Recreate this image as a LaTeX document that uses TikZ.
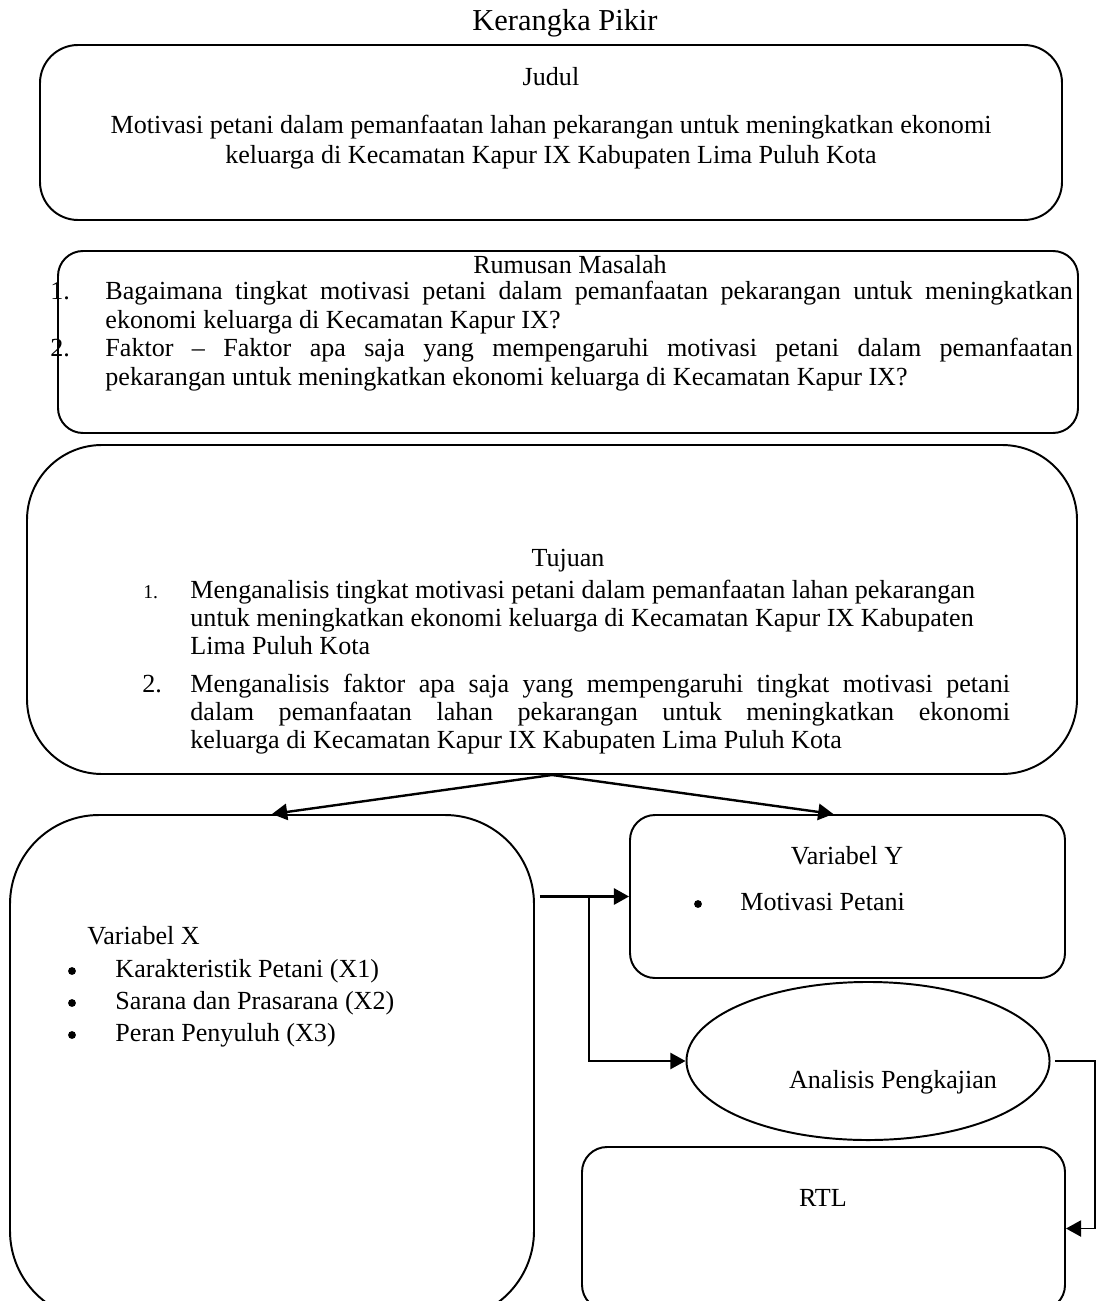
\documentclass[tikz,border=0pt]{standalone}
\usepackage{fontspec}
\setmainfont{Liberation Serif}
\usetikzlibrary{arrows.meta, fit, shapes.geometric, calc}

\begin{document}
\begin{tikzpicture}[x=0.46pt, y=-0.46pt,
    every node/.style={font=\fontsize{12pt}{13pt}\selectfont},
    box/.style={draw, line width=0.9pt, inner sep=0pt},
    txt/.style={anchor=base west, inner sep=0pt},
    dot/.style={circle, fill, inner sep=0pt, minimum size=3.6pt},
    arr/.style={-{Triangle[length=7pt,width=7.5pt]}, line width=1.1pt}]
    \useasboundingbox (0,0) rectangle (1096,1301);
    \clip (0,0) rectangle (1096,1301);

    \node[font=\fontsize{14pt}{16pt}\selectfont] (title) at (565,23) {Kerangka Pikir};

    % Judul
    \node[box, rounded corners=17.5pt, fit={(40,45) (1062,220)}] (judul) {};
    \node[anchor=base] (judulhead) at (551,86) {Judul};
    \node[anchor=base] (judul1) at (551,134) {Motivasi petani dalam pemanfaatan lahan pekarangan untuk meningkatkan ekonomi};
    \node[anchor=base] (judul2) at (551,164) {keluarga di Kecamatan Kapur IX Kabupaten Lima Puluh Kota};

    % Rumusan Masalah
    \node[box, rounded corners=11.5pt, fit={(58,251) (1078,433)}] (rumusan) {};
    \node[anchor=base] (rumusanhead) at (570,274) {Rumusan Masalah};
    \node[txt] (rm1no) at (50,300) {1.};
    \node[txt, text width=445pt, align=justify] (rm1) at (105,300) {Bagaimana tingkat motivasi petani dalam pemanfaatan pekarangan untuk meningkatkan\linebreak ekonomi keluarga di Kecamatan Kapur IX?};
    \node[txt] (rm2no) at (50,357) {2.};
    \node[txt, text width=445pt, align=justify] (rm2) at (105,357) {Faktor – Faktor apa saja yang mempengaruhi motivasi petani dalam pemanfaatan\linebreak pekarangan untuk meningkatkan ekonomi keluarga di Kecamatan Kapur IX?};

    % Tujuan
    \node[box, rounded corners=34.5pt, fit={(27,445) (1077,774)}] (tujuan) {};
    \node[anchor=base] (tujuanhead) at (568,566) {Tujuan};
    \node[txt, font=\fontsize{9pt}{10pt}\selectfont] (tj1no) at (143,598) {1.};
    \node[txt, text width=395pt, align=flush left] (tj1) at (190,598) {Menganalisis tingkat motivasi petani dalam pemanfaatan lahan pekarangan\\ untuk meningkatkan ekonomi keluarga di Kecamatan Kapur IX Kabupaten\\ Lima Puluh Kota};
    \node[txt] (tj2no) at (142,692) {2.};
    \node[txt, text width=377pt, align=justify] (tj2) at (190,692) {Menganalisis faktor apa saja yang mempengaruhi tingkat motivasi petani\linebreak dalam pemanfaatan lahan pekarangan untuk meningkatkan ekonomi\linebreak keluarga di Kecamatan Kapur IX Kabupaten Lima Puluh Kota};

    % Variabel X
    \node[box, rounded corners=41pt, fit={(10,815) (534,1320)}] (varx) {};
    \node[txt] (varxhead) at (87,944) {Variabel X};
    \foreach \y/\t [count=\i] in {977/{Karakteristik Petani (X1)}, 1009/{Sarana dan Prasarana (X2)}, 1041/{Peran Penyuluh (X3)}} {
        \node[dot] (bx\i) at (72,\y-6) {};
        \node[txt] (vx\i) at (115,\y) {\t};
    }

    % Variabel Y
    \node[box, rounded corners=11.5pt, fit={(630,815) (1065,978)}] (vary) {};
    \node[anchor=base] (varyhead) at (847,864) {Variabel Y};
    \node[dot] (by1) at (698,904) {};
    \node[txt] (vy1) at (740,910) {Motivasi Petani};

    % Analisis Pengkajian
    \node[draw, ellipse, line width=0.9pt, minimum width=167pt, minimum height=72.7pt, inner sep=0pt] (ana) at (868,1061) {};
    \node[anchor=base] (analabel) at (893,1088) {Analisis Pengkajian};

    % RTL
    \node[box, rounded corners=11.5pt, fit={(582,1147) (1065,1310)}] (rtl) {};
    \node[anchor=base] (rtllabel) at (823,1206) {RTL};

    % connectors
    \draw[arr] (tujuan.south) -- (varx.north);
    \draw[arr] (tujuan.south) -- ([xshift=-6.5pt]vary.north);
    \coordinate (xout) at ($(varx.east |- vary.west)+(5,0)$);
    \coordinate (xfork) at ($(xout)+(49,0)$);
    \draw[arr] (xout) -- (vary.west);
    \draw[arr, line width=0.8pt] (xfork) |- (ana.west);
    \draw[arr, line width=0.8pt] ([xshift=2pt]ana.east) -| ($(rtl.east)+(29,0)$) -- (rtl.east);
\end{tikzpicture}
\end{document}
